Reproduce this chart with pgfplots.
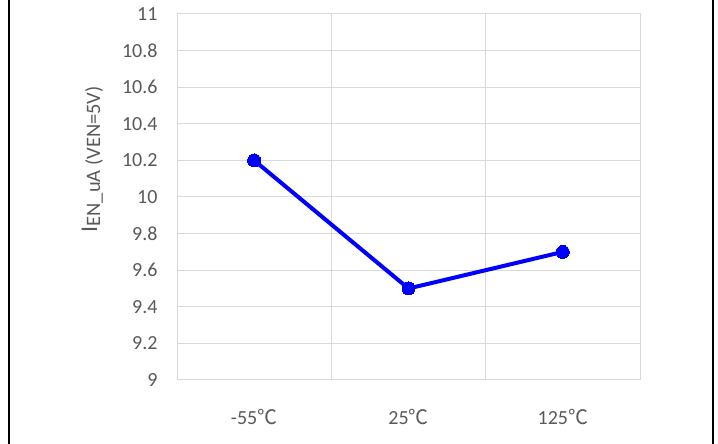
\documentclass[border=0pt]{standalone}
\usepackage{fontspec}
\setmainfont{Carlito}
\newfontfamily\cjk{Noto Sans CJK SC}
\usepackage{pgfplots}
\pgfplotsset{compat=1.18}
\definecolor{txt}{RGB}{89,89,89}
\definecolor{grd}{RGB}{217,217,217}
\begin{document}
\begin{tikzpicture}[x=1pt,y=1pt]
\path[use as bounding box] (0,0) rectangle (718,444);
\draw[black,line width=2.5pt] (9,0) -- (9,444);
\draw[black,line width=2.5pt] (713,0) -- (713,444);
\begin{axis}[
  at={(177pt,64pt)}, anchor=south west,
  scale only axis, width=463pt, height=366pt,
  xmin=-0.5, xmax=2.5, ymin=9, ymax=11,
  xtick={0,1,2},
  xticklabels={-55{\cjk ℃}, 25{\cjk ℃}, 125{\cjk ℃}},
  minor xtick={0.5,1.5},
  ytick={9,9.2,...,11.01},
  yticklabels={9,9.2,9.4,9.6,9.8,10,10.2,10.4,10.6,10.8,11},
  ymajorgrids, xminorgrids,
  grid style={grd, line width=1pt},
  minor grid style={grd, line width=1pt},
  axis line style={grd, line width=1pt},
  major tick length=0pt, minor tick length=0pt,
  tick style={draw=none},
  ticklabel style={font=\fontsize{20}{24}\selectfont, text=txt},
  yticklabel style={xshift=-16pt},
  xticklabel style={yshift=-26pt},
  ylabel={I\raisebox{-3pt}{\fontsize{20.5}{23}\selectfont EN\_uA (VEN=5V)}},
  ylabel style={at={(rel axis cs:-0.183,0.603)}, anchor=center, font=\fontsize{24}{27}\selectfont, text=txt},
  clip=false,
]
\addplot[color={rgb,255:red,0;green,0;blue,255}, line width=4pt, mark=*, mark size=6.5pt,
  mark options={solid, fill={rgb,255:red,0;green,0;blue,255}, line width=0pt}]
  coordinates {(0,10.2) (1,9.5) (2,9.7)};
\end{axis}
\end{tikzpicture}
\end{document}
